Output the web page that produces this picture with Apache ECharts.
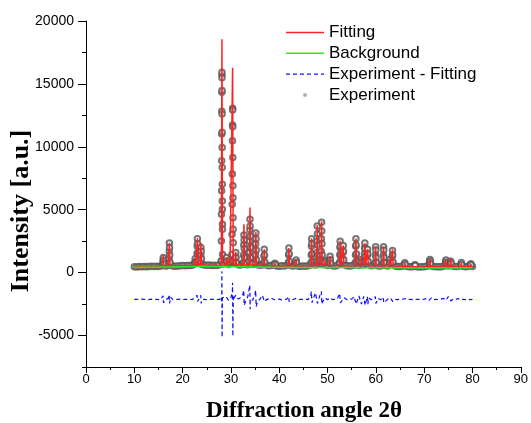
<!DOCTYPE html>
<html>
<head>
<meta charset="utf-8">
<script src="https://cdn.jsdelivr.net/npm/echarts@6/dist/echarts.min.js"></script>
<style>html,body{margin:0;padding:0;background:#fff}#c{width:531px;height:423px}</style>
</head>
<body>
<div id="c"></div>
<script>
// ---- data ----
const xTickLabels = [0,10,20,30,40,50,60,70,80,90];
const yTickLabels = [-5000,0,5000,10000,15000,20000];
const legendNames = ['Fitting','Background','Experiment - Fitting','Experiment'];

const expBaseline = [
[10.0,470],[10.5,455],[11.0,480],[11.5,465],[12.0,490],[12.5,470],[13.0,485],[13.5,500],[14.0,480],[14.5,505],
[15.0,495],[15.5,520],[16.0,640],[16.5,530],[17.0,560],[17.5,620],[18.0,520],[18.5,510],[19.0,530],[19.5,545],
[20.0,560],[20.5,550],[21.0,575],[21.5,560],[22.0,590],[22.5,700],[23.0,900],[23.5,820],[24.0,640],[24.5,600],
[25.0,580],[25.5,600],[26.0,570],[26.5,590],[27.0,575],[27.5,600],[28.0,900],[28.5,700],[29.0,800],[29.5,650],
[30.0,750],[30.5,900],[31.0,800],[31.5,620],[32.0,600],[32.5,700],[33.0,650],[33.5,620],[34.0,800],[34.5,640],
[35.0,700],[35.5,620],[36.0,580],[36.5,600],[37.0,700],[37.5,560],[38.0,540],[38.5,580],[39.0,620],[39.5,530],
[40.0,510],[40.5,540],[41.0,520],[41.5,560],[42.0,700],[42.5,540],[43.0,520],[43.5,650],[44.0,510],[44.5,500],
[45.0,520],[45.5,510],[46.0,540],[46.5,620],[47.0,650],[47.5,600],[48.0,700],[48.5,680],[49.0,650],[49.5,640],
[50.0,560],[50.5,700],[51.0,540],[51.5,520],[52.0,560],[52.5,700],[53.0,750],[53.5,620],[54.0,540],[54.5,520],
[55.0,540],[55.5,600],[56.0,680],[56.5,560],[57.0,650],[57.5,600],[58.0,700],[58.5,620],[59.0,540],[59.5,560],
[60.0,650],[60.5,530],[61.0,520],[61.5,580],[62.0,560],[62.5,520],[63.0,700],[63.5,650],[64.0,520],[64.5,490],
[65.0,480],[65.5,500],[66.0,560],[66.5,480],[67.0,470],[67.5,460],[68.0,520],[68.5,470],[69.0,450],[69.5,460],
[70.0,470],[70.5,500],[71.0,560],[71.5,520],[72.0,480],[72.5,470],[73.0,460],[73.5,470],[74.0,500],[74.5,620],
[75.0,520],[75.5,600],[76.0,500],[76.5,480],[77.0,490],[77.5,560],[78.0,500],[78.5,470],[79.0,480],[79.5,560],
[80.0,490]];

const expPeaks = [
[15.88,600],[15.94,800],[15.98,1050],[16.02,1200],[16.06,950],[16.12,700],
[17.13,650],[17.19,1100],[17.23,1700],[17.26,2350],[17.29,2000],[17.33,1400],[17.39,800],
[22.55,800],[22.6,1100],[22.66,850],
[22.95,900],[23.0,1500],[23.03,2100],[23.06,2700],[23.09,2300],[23.13,1600],[23.18,1000],
[23.7,900],[23.75,1400],[23.8,2000],[23.84,1700],[23.9,1100],
[28.0,920],[28.03,2510],[28.05,4640],[28.07,6500],[28.09,8890],[28.1,11020],[28.11,12820],[28.12,14340],[28.13,15720],[28.14,15930],
[28.15,15480],[28.16,14470],[28.17,12610],[28.18,11150],[28.19,9950],[28.2,8360],[28.21,7030],[28.22,5700],[28.23,5040],[28.24,3840],[28.25,3440],[28.27,1450],[28.32,700],
[29.05,900],[29.1,1200],[29.15,900],[29.65,850],[29.7,1000],[29.75,850],
[30.21,1450],[30.24,3050],[30.27,5440],[30.29,7830],[30.31,10490],[30.33,11740],[30.35,13060],
[30.36,12930],[30.37,11600],[30.39,9150],[30.41,6900],[30.42,5960],[30.44,4370],[30.46,3440],[30.48,2380],[30.55,900],
[30.92,800],[30.97,1200],[31.01,1600],[31.05,1200],[31.1,800],
[32.58,800],[32.62,1400],[32.66,2200],[32.7,3000],[32.73,2600],[32.76,1900],[32.8,1200],[32.86,700],
[33.8,900],[33.84,1600],[33.88,2500],[33.91,3400],[33.94,4250],[33.97,3700],[34.0,2900],[34.04,2000],[34.09,1200],[34.15,700],
[35.05,800],[35.09,1400],[35.13,2300],[35.17,3150],[35.2,2700],[35.24,1800],[35.29,1000],
[36.8,800],[36.85,1300],[36.9,1850],[36.95,1400],[37.0,850],
[39.05,650],[39.1,750],[39.15,650],
[41.9,800],[41.95,1400],[42.0,1950],[42.05,1500],[42.1,900],
[43.45,800],[43.5,1000],[43.55,800],
[46.58,800],[46.63,1400],[46.67,2100],[46.71,2700],[46.75,2300],[46.8,1500],[46.86,900],
[47.74,900],[47.78,1600],[47.82,2500],[47.86,3700],[47.9,3100],[47.94,2200],[47.99,1400],[48.05,900],
[48.65,1000],[48.69,1700],[48.73,2700],[48.77,4000],[48.81,3300],[48.85,2300],[48.9,1400],[48.96,900],
[49.45,800],[49.5,950],[49.55,800],
[50.42,800],[50.47,1100],[50.52,1300],[50.57,1000],[50.62,750],
[52.48,800],[52.53,1400],[52.57,2000],[52.61,2500],[52.65,2100],[52.7,1500],[52.76,1000],
[53.15,1100],[53.2,1600],[53.25,2150],[53.3,1700],[53.36,1000],
[55.75,800],[55.79,1400],[55.83,2100],[55.87,2700],[55.91,2200],[55.96,1500],[56.02,900],
[56.93,800],[56.98,1050],[57.03,850],
[57.6,900],[57.64,1500],[57.68,2000],[57.72,2350],[57.76,1900],[57.81,1300],[57.87,900],
[58.22,900],[58.26,1400],[58.3,1850],[58.34,1500],[58.4,900],
[59.88,800],[59.92,1400],[59.96,2050],[60.0,1800],[60.05,1200],[60.1,800],
[61.52,800],[61.56,1400],[61.6,2050],[61.64,1800],[61.69,1200],[61.75,800],
[62.85,800],[62.9,1050],[62.95,800],
[63.35,800],[63.4,1300],[63.45,1750],[63.49,1400],[63.55,850],
[65.95,650],[66.0,780],[66.05,650],
[68.05,560],[68.1,620],[68.15,560],
[71.1,700],[71.15,900],[71.2,1050],[71.25,900],[71.3,700],
[74.42,700],[74.47,900],[74.52,1000],[74.57,800],
[75.45,750],[75.5,900],[75.55,750],
[77.65,650],[77.7,800],[77.75,650],
[79.6,600],[79.66,700],[79.72,600]];

const fitBaseline = [
[10,480],[11,480],[12,490],[13,490],[14,490],[15,500],[17,530],[18,520],[19,530],[20,550],[21,570],[22,580],
[24,600],[25,590],[26,580],[27,580],[30,600],[32,600],[33,600],[35,600],[36,580],[38,550],[40,520],[41,520],
[43,520],[44,510],[45,510],[46,530],[47,560],[48,580],[49,580],[50,550],[51,530],[52,540],[53,560],[54,530],
[55,530],[56,560],[58,580],[59,540],[61,530],[62,540],[64,500],[65,490],[67,470],[68,470],[69,460],[70,470],
[71,480],[72,470],[73,460],[74,470],[75,480],[76,480],[77,480],[78,470],[79,470],[80,480]];

const fitPeaks = [
[15.88,520],[16.0,1400],[16.12,530],
[17.14,540],[17.26,2380],[17.38,540],
[22.48,600],[22.6,1100],[22.72,620],
[22.94,620],[23.06,2730],[23.18,650],
[23.68,650],[23.8,2380],[23.92,620],
[28.02,600],[28.14,18540],[28.26,620],
[28.98,600],[29.1,1200],[29.22,600],
[29.58,600],[29.7,1050],[29.82,600],
[30.23,600],[30.35,16280],[30.47,620],
[30.89,600],[31.01,1650],[31.13,600],
[32.58,600],[32.7,3840],[32.82,600],
[33.82,600],[33.94,5170],[34.06,620],
[35.05,600],[35.17,3230],[35.29,600],
[36.78,580],[36.9,1850],[37.02,570],
[38.98,550],[39.1,750],[39.22,550],
[41.88,520],[42.0,1950],[42.12,520],
[43.38,520],[43.5,1000],[43.62,520],
[46.59,540],[46.71,2730],[46.83,560],
[47.74,570],[47.86,3790],[47.98,580],
[48.65,580],[48.77,4080],[48.89,580],
[49.38,580],[49.5,950],[49.62,570],
[50.4,550],[50.52,1315],[50.64,540],
[52.49,550],[52.61,2540],[52.73,560],
[53.13,560],[53.25,2150],[53.37,550],
[55.75,540],[55.87,2720],[55.99,550],
[56.86,560],[56.98,1280],[57.1,570],
[57.6,570],[57.72,2350],[57.84,570],
[58.18,570],[58.3,1850],[58.42,560],
[59.84,540],[59.96,2080],[60.08,540],
[61.48,530],[61.6,2080],[61.72,530],
[62.78,540],[62.9,1050],[63.02,540],
[63.33,530],[63.45,1850],[63.57,520],
[65.88,490],[66.0,780],[66.12,480],
[67.98,470],[68.1,620],[68.22,470],
[71.08,480],[71.2,1100],[71.32,480],
[74.4,470],[74.52,1000],[74.64,480],
[75.38,480],[75.5,1180],[75.62,480],
[77.58,480],[77.7,800],[77.82,480],
[79.54,470],[79.66,700],[79.78,470]];

const background = [
[10,430],[15,440],[20,470],[25,480],[30,470],[35,450],[40,420],[45,410],
[50,400],[55,400],[60,390],[65,380],[70,370],[75,370],[80,380]];

const diffBaseline = [
[10.0,-2130],[10.5,-2120],[11.0,-2140],[11.5,-2110],[12.0,-2130],[12.5,-2120],[13.0,-2140],[13.5,-2110],[14.0,-2130],[14.5,-2120],
[15.0,-2140],[15.5,-2100],[16.0,-1900],[16.5,-2150],[17.0,-2050],[17.5,-1950],[18.0,-2150],[18.5,-2120],[19.0,-2130],[19.5,-2110],
[20.0,-2140],[20.5,-2120],[21.0,-2130],[21.5,-2110],[22.0,-2140],[22.5,-2000],[23.0,-1800],[23.5,-2000],[24.0,-2150],[24.5,-2120],
[25.0,-2140],[25.5,-2120],[26.0,-2130],[26.5,-2110],[27.0,-2140],[27.5,-2120],[28.0,-2100],[28.5,-2000],[29.0,-1900],[29.5,-2200],
[30.0,-2000],[30.5,-1900],[31.0,-1800],[31.5,-2100],[32.0,-2000],[32.5,-1700],[33.0,-2300],[33.5,-1900],[34.0,-2100],[34.5,-2200],
[35.0,-1700],[35.5,-2300],[36.0,-2100],[36.5,-1800],[37.0,-2200],[37.5,-2100],[38.0,-2130],[38.5,-2050],[39.0,-2150],[39.5,-2120],
[40.0,-2100],[40.5,-2160],[41.0,-2110],[41.5,-2130],[42.0,-1950],[42.5,-2200],[43.0,-2120],[43.5,-2050],[44.0,-2140],[44.5,-2120],
[45.0,-2130],[45.5,-2110],[46.0,-2140],[46.5,-1800],[47.0,-2300],[47.5,-1600],[48.0,-2400],[48.5,-1700],[49.0,-2300],[49.5,-2000],
[50.0,-2150],[50.5,-2000],[51.0,-2140],[51.5,-2120],[52.0,-2100],[52.5,-1650],[53.0,-2400],[53.5,-2000],[54.0,-2150],[54.5,-2120],
[55.0,-2100],[55.5,-1900],[56.0,-2400],[56.5,-1850],[57.0,-2500],[57.5,-1900],[58.0,-2450],[58.5,-2000],[59.0,-2150],[59.5,-2100],
[60.0,-2450],[60.5,-2050],[61.0,-2150],[61.5,-1950],[62.0,-2300],[62.5,-2100],[63.0,-2000],[63.5,-2300],[64.0,-2120],[64.5,-2140],
[65.0,-2110],[65.5,-2130],[66.0,-2050],[66.5,-2150],[67.0,-2120],[67.5,-2140],[68.0,-2100],[68.5,-2130],[69.0,-2120],[69.5,-2140],
[70.0,-2110],[70.5,-2050],[71.0,-2200],[71.5,-2000],[72.0,-2150],[72.5,-2120],[73.0,-2140],[73.5,-2100],[74.0,-2050],[74.5,-2200],
[75.0,-1900],[75.5,-2250],[76.0,-2100],[76.5,-2130],[77.0,-2050],[77.5,-2180],[78.0,-2120],[78.5,-2140],[79.0,-2080],[79.5,-2150],
[80.0,-2130]];

const diffPeaks = [
[15.95,-1850],[16.05,-2400],[17.2,-1750],[17.3,-2450],
[23.02,-1650],[23.1,-2300],[23.75,-1800],[23.85,-2450],
[28.08,-2300],[28.11,-1000],[28.13,100],[28.15,-3000],[28.17,-5140],[28.2,-3500],[28.25,-2000],
[30.25,-2000],[30.3,-1500],[30.33,-810],[30.37,-3000],[30.4,-5060],[30.44,-3500],[30.52,-2100],
[32.65,-1400],[32.75,-2600],[33.9,-1000],[33.98,-2900],[35.12,-1400],[35.22,-2700],
[36.85,-1800],[36.95,-2300],[41.95,-1900],[42.05,-2300],
[46.66,-1500],[46.76,-2400],[47.81,-1480],[47.91,-2450],[48.72,-1500],[48.82,-2500],
[52.56,-1600],[52.66,-2400],[55.82,-1800],[55.92,-2500],[57.67,-1800],[57.77,-2600],
[58.25,-1900],[58.35,-2500],[59.9,-1900],[60.02,-2550],[61.55,-1900],[61.65,-2400],
[63.4,-1950],[63.52,-2400]];

// ---- build ----
const byX = (a, b) => a[0] - b[0];
const fitData = fitBaseline.concat(fitPeaks).sort(byX);
const diffData = diffBaseline.concat(diffPeaks).sort(byX);
const expData = expBaseline.concat(expPeaks);

const chart = echarts.init(document.getElementById('c'), null, {renderer: 'canvas'});
const sansFont = '"Liberation Sans", Arial, sans-serif';
const serifFont = '"Liberation Serif", "Times New Roman", serif';

// legend icons (icon box 38 x 14)
const solidIcon = 'path://M0,0M38,14M0,6.3h38v1.5h-38z';
const dashIcon = 'path://M0,0M38,14M0,6.3h4v1.4h-4zM7,6.3h4v1.4h-4zM14,6.3h4v1.4h-4zM21,6.3h4v1.4h-4zM28,6.3h4v1.4h-4zM35,6.3h3v1.4h-3z';
const dotIcon = 'path://M0,0M38,14M17,7a2,2 0 1,0 4,0a2,2 0 1,0 -4,0z';

chart.setOption({
  animation: false,
  backgroundColor: '#fff',
  grid: {left: 86, right: 10, top: 21, bottom: 56},
  legend: {
    orient: 'vertical', left: 281, top: 19,
    itemWidth: 38, itemHeight: 14, itemGap: 3.8,
    textStyle: {fontFamily: sansFont, fontSize: 17, lineHeight: 16, color: '#000'},
    data: [
      {name: legendNames[0], icon: solidIcon, itemStyle: {color: '#ff2222', borderWidth: 0}},
      {name: legendNames[1], icon: solidIcon, itemStyle: {color: '#22ee22', borderWidth: 0}},
      {name: legendNames[2], icon: dashIcon, itemStyle: {color: '#1010ff', borderWidth: 0}},
      {name: legendNames[3], icon: dotIcon, itemStyle: {color: '#999', borderWidth: 0}}
    ]
  },
  xAxis: [{
    type: 'value', min: 0, max: 90, interval: 10,
    axisLine: {onZero: false, lineStyle: {color: '#000', width: 1}},
    axisTick: {length: 6, lineStyle: {color: '#000'}},
    minorTick: {show: true, splitNumber: 2, length: 3, lineStyle: {color: '#000'}},
    splitLine: {show: false},
    axisLabel: {margin: 6, fontFamily: sansFont, fontSize: 13, color: '#000',
      customValues: xTickLabels}
  }],
  yAxis: [{
    type: 'value', min: -7500, max: 20000, interval: 2500,
    axisLine: {show: true, onZero: false, lineStyle: {color: '#000', width: 1}},
    axisTick: {show: true, length: 4, lineStyle: {color: '#000'}},
    splitLine: {show: false},
    axisLabel: {margin: 12, fontFamily: sansFont, fontSize: 14, color: '#000',
      formatter: v => (yTickLabels.indexOf(v) >= 0 ? String(v) : '')}
  }, {
    type: 'value', min: -7500, max: 20000, position: 'left',
    axisLine: {show: false}, splitLine: {show: false},
    axisLabel: {show: false},
    axisTick: {show: true, length: 8, customValues: yTickLabels, lineStyle: {color: '#000'}}
  }],
  graphic: [
    {type: 'text', x: 304, y: 411, style: {text: 'Diffraction angle 2θ', font: 'bold 23px ' + serifFont, fill: '#000', textAlign: 'center', textVerticalAlign: 'middle'}},
    {type: 'text', x: 21, y: 211, rotation: Math.PI / 2, style: {text: 'Intensity [a.u.]', font: 'bold 26px ' + serifFont, fill: '#000', textAlign: 'center', textVerticalAlign: 'middle'}}
  ],
  series: [
    {name: legendNames[0], type: 'line', data: fitData, symbol: 'none', lineStyle: {color: '#ff2222', width: 1.5}, itemStyle: {color: '#ff2222'}},
    {name: legendNames[1], type: 'line', data: background, symbol: 'none', smooth: true, lineStyle: {color: '#22ee22', width: 1.5}, itemStyle: {color: '#22ee22'}},
    {name: legendNames[2], type: 'line', data: diffData, symbol: 'none', lineStyle: {color: '#1010ff', width: 1.2, type: [4, 3]}, itemStyle: {color: '#1010ff'}},
    {name: legendNames[3], type: 'scatter', data: expData, symbol: 'emptyCircle', symbolSize: 5.5,
      itemStyle: {color: '#555', borderColor: '#555', borderWidth: 1}}
  ]
});
</script>
</body>
</html>
